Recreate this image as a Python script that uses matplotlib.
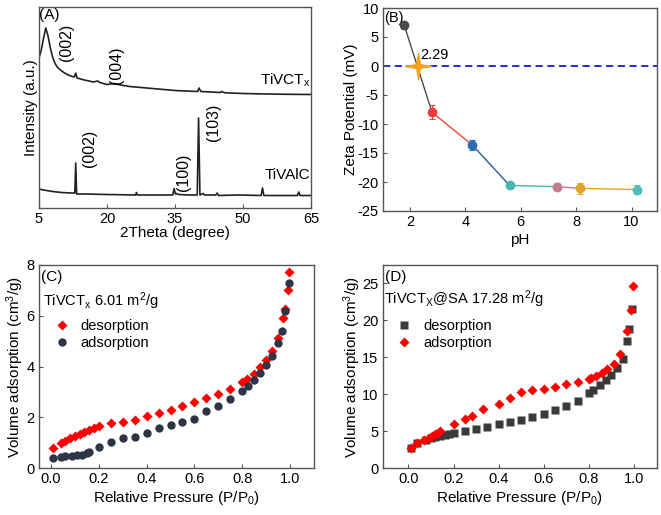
import matplotlib
matplotlib.use("Agg")
import matplotlib.pyplot as plt
from matplotlib.path import Path
import numpy as np

plt.rcParams['font.family'] = ['Liberation Sans', 'DejaVu Sans']
plt.rcParams['font.size'] = 10
plt.rcParams['axes.unicode_minus'] = False
plt.rcParams['mathtext.default'] = 'regular'

# ---------------- Panel A: XRD ----------------
tivctx_2theta = [5.0, 5.5, 6.0, 6.5, 7.0, 7.5, 8.0, 8.5, 9.0, 10.0, 11.0, 12.0, 12.8, 13.1, 13.4,
                 15.0, 17.0, 17.9, 18.4, 20.0, 21.5, 23.0, 25.0, 30.0, 35.0, 40.0, 40.3, 40.7,
                 45.0, 45.3, 46.0, 50.0, 55.0, 60.0, 65.0]
tivctx_int = [150, 158, 170, 180, 172, 160, 151, 145, 141, 137, 134, 132, 131, 135, 130,
              128, 126, 127, 125.5, 123.5, 124.5, 123, 121.5, 119.5, 117.5, 116.5, 120, 116.5,
              115.5, 116.5, 115.2, 114.5, 114, 113.7, 113.5]

tivalc_2theta = [5.0, 6.0, 8.0, 10.0, 12.0, 12.9, 13.1, 13.3, 15.0, 20.0, 26.3, 26.5, 26.7, 30.0,
                 34.5, 34.8, 35.1, 35.5, 35.8, 38.0, 39.9, 40.2, 40.5, 41.2, 41.5, 44.0, 44.3, 44.6,
                 49.0, 54.0, 54.3, 54.6, 60.0, 62.0, 62.3, 62.6, 65.0]
tivalc_int = [19, 18, 16.5, 15.5, 15, 15, 45, 14, 14, 13.5, 13, 15.5, 13, 13,
              13, 19.5, 14, 14.5, 13.5, 13, 13, 90, 13, 14.5, 13, 13, 15, 12.5,
              13, 12.5, 20, 12.5, 12.5, 12.5, 16, 12.5, 12.5]

# ---------------- Panel B: Zeta potential ----------------
ph = [1.8, 2.8, 4.25, 5.6, 7.3, 8.15, 10.2]
zeta = [7.0, -8.0, -13.6, -20.6, -20.8, -21.1, -21.3]
zeta_err = [0.6, 1.2, 0.8, 0.5, 0.6, 0.9, 0.7]
pzc_ph = 2.29
point_colors = ['#4a4a4a', '#f23c3c', '#2b6cb4', '#45b7b2', '#c47a8c', '#e3a22e', '#4fbfbd']
segment_colors = ['#4a4a4a', '#f04a3a', '#1f5c98', '#42b8b4', '#c47a8c', '#f0a020']

# ---------------- Panel C: TiVCTx BET ----------------
c_des_p = [0.01, 0.04, 0.06, 0.08, 0.10, 0.12, 0.14, 0.16, 0.18, 0.20, 0.25, 0.30, 0.35, 0.40,
           0.45, 0.50, 0.55, 0.60, 0.65, 0.70, 0.75, 0.80, 0.82, 0.85, 0.875, 0.90, 0.925,
           0.95, 0.97, 0.98, 0.99, 0.995]
c_des_v = [0.78, 0.98, 1.07, 1.20, 1.27, 1.35, 1.43, 1.50, 1.58, 1.66, 1.78, 1.80, 1.90, 2.05,
           2.18, 2.28, 2.45, 2.62, 2.76, 2.92, 3.13, 3.37, 3.50, 3.72, 3.98, 4.27, 4.63,
           5.13, 5.93, 6.27, 7.00, 7.72]
c_ads_p = [0.01, 0.04, 0.06, 0.09, 0.11, 0.13, 0.15, 0.16, 0.20, 0.25, 0.30, 0.35, 0.40, 0.45,
           0.50, 0.55, 0.60, 0.65, 0.70, 0.75, 0.80, 0.825, 0.85, 0.875, 0.90, 0.925, 0.95,
           0.965, 0.98, 0.995]
c_ads_v = [0.40, 0.45, 0.47, 0.48, 0.50, 0.53, 0.58, 0.65, 0.84, 1.03, 1.20, 1.24, 1.38, 1.56,
           1.70, 1.82, 1.94, 2.24, 2.43, 2.72, 3.02, 3.23, 3.48, 3.73, 4.05, 4.42, 4.93,
           5.38, 6.17, 7.31]

# ---------------- Panel D: TiVCTx@SA BET ----------------
d_des_p = [0.01, 0.04, 0.08, 0.10, 0.12, 0.14, 0.16, 0.18, 0.20, 0.25, 0.30, 0.35, 0.40, 0.45,
           0.50, 0.55, 0.60, 0.65, 0.70, 0.75, 0.80, 0.82, 0.85, 0.875, 0.90, 0.925, 0.95,
           0.97, 0.98, 0.99]
d_des_v = [2.7, 3.4, 3.85, 4.0, 4.2, 4.4, 4.5, 4.65, 4.75, 5.05, 5.3, 5.6, 5.9, 6.2,
           6.5, 6.9, 7.3, 7.8, 8.4, 9.1, 10.1, 10.6, 11.3, 11.9, 12.6, 13.5, 14.8,
           17.2, 18.8, 21.5]
d_ads_p = [0.01, 0.04, 0.07, 0.09, 0.105, 0.12, 0.13, 0.14, 0.20, 0.25, 0.28, 0.33, 0.40, 0.45,
           0.50, 0.55, 0.60, 0.65, 0.70, 0.75, 0.80, 0.81, 0.83, 0.86, 0.88, 0.91, 0.94,
           0.97, 0.985, 0.995]
d_ads_v = [2.7, 3.35, 3.8, 4.05, 4.3, 4.6, 4.8, 5.05, 5.95, 6.6, 7.1, 8.0, 8.7, 9.5,
           10.3, 10.55, 10.75, 11.0, 11.35, 11.7, 12.1, 12.25, 12.5, 12.9, 13.4, 14.1, 15.5,
           18.6, 21.4, 24.6]

W, H = 661, 515
fig = plt.figure(figsize=(W / 100, H / 100), dpi=100)

LABEL_FS = 11
TICK_FS = 10.5
TEXT_FS = 10.5


def add_ax(l, r, t, b):
    return fig.add_axes([l / W, 1 - b / H, (r - l) / W, (b - t) / H])


spine_col = '#555555'


def style(ax):
    for s in ax.spines.values():
        s.set_color(spine_col)
        s.set_linewidth(1.0)
    ax.tick_params(direction='in', length=3, color=spine_col, labelsize=TICK_FS, pad=3)


# Panel A
axA = add_ax(39, 311, 7, 208)
style(axA)
axA.plot(tivctx_2theta, tivctx_int, color='#222222', lw=1.2)
axA.plot(tivalc_2theta, tivalc_int, color='#222222', lw=1.2)
axA.set_xlim(5, 65)
axA.set_ylim(0, 201)
axA.set_xticks([5, 20, 35, 50, 65])
axA.set_yticks([])
axA.set_xlabel('2Theta (degree)', labelpad=0, fontsize=LABEL_FS)
axA.set_ylabel('Intensity (a.u.)', labelpad=1, fontsize=LABEL_FS)
axA.text(0.0, 0.995, '(A)', transform=axA.transAxes, ha='left', va='top', fontsize=11)
pk_fs = 11.5
axA.text(11.0, 166, '(002)', rotation=90, ha='center', va='center', fontsize=pk_fs)
axA.text(22.0, 143, '(004)', rotation=90, ha='center', va='center', fontsize=pk_fs)
axA.text(16.1, 60, '(002)', rotation=90, ha='center', va='center', fontsize=pk_fs)
axA.text(36.8, 36, '(100)', rotation=90, ha='center', va='center', fontsize=pk_fs)
axA.text(43.5, 86, '(103)', rotation=90, ha='center', va='center', fontsize=pk_fs)
axA.text(64.8, 128, 'TiVCT$_x$', ha='right', va='center', fontsize=11)
axA.text(64.8, 33, 'TiVAlC', ha='right', va='center', fontsize=11)

# Panel B
axB = add_ax(383, 656.5, 8, 211)
style(axB)
axB.axhline(0, color='#1a1acc', lw=1.3, ls=(0, (4, 2.5)), zorder=1)
for i in range(len(ph) - 1):
    axB.plot(ph[i:i + 2], zeta[i:i + 2], color=segment_colors[i], lw=1.0, zorder=2)
for i in range(len(ph)):
    axB.errorbar(ph[i], zeta[i], yerr=zeta_err[i], fmt='o', ms=6, color=point_colors[i],
                 ecolor=point_colors[i], elinewidth=0.8, capsize=2, capthick=0.8, zorder=3)
star = Path([(0, 1), (0.14, 0.14), (1, 0), (0.14, -0.14), (0, -1), (-0.14, -0.14), (-1, 0),
             (-0.14, 0.14), (0, 1)], closed=True)
axB.plot([pzc_ph], [0], marker=star, ms=19, color='#f5a21e', mec='#f5a21e', zorder=4, ls='none')
axB.text(pzc_ph + 0.1, 1.9, '%.2f' % pzc_ph, ha='left', va='center', fontsize=10.5)
axB.set_xlim(1.03, 10.9)
axB.set_ylim(-25, 10)
axB.set_xticks([2, 4, 6, 8, 10])
axB.set_yticks([10, 5, 0, -5, -10, -15, -20, -25])
axB.set_xlabel('pH', labelpad=3, fontsize=LABEL_FS)
axB.set_ylabel('Zeta Potential (mV)', labelpad=0, fontsize=LABEL_FS)
axB.text(0.005, 0.985, '(B)', transform=axB.transAxes, ha='left', va='top', fontsize=10.5)

# Panel C
axC = add_ax(38.5, 314, 265, 468)
style(axC)
axC.plot(c_des_p, c_des_v, 'D', color='#ff0000', ms=5.5, mec='none', label='desorption')
axC.plot(c_ads_p, c_ads_v, 'o', color='#2e3547', ms=6, mec='none', label='adsorption')
axC.set_xlim(-0.052, 1.1)
axC.set_ylim(0, 8)
axC.set_xticks([0.0, 0.2, 0.4, 0.6, 0.8, 1.0])
axC.set_xticklabels(['0.0', '0.2', '0.4', '0.6', '0.8', '1.0'])
axC.set_yticks([0, 2, 4, 6, 8])
axC.set_xlabel('Relative Pressure (P/P$_0$)', labelpad=2, fontsize=LABEL_FS)
axC.set_ylabel('Volume adsorption (cm$^3$/g)', labelpad=0, fontsize=LABEL_FS)
axC.text(0.01, 0.975, '(C)', transform=axC.transAxes, ha='left', va='top', fontsize=11)
axC.text(0.017, 0.82, 'TiVCT$_x$ 6.01 m$^2$/g', transform=axC.transAxes, ha='left', va='center',
         fontsize=TEXT_FS)
axC.legend(loc='upper left', bbox_to_anchor=(0.02, 0.785), frameon=False, handlelength=1.0,
           handletextpad=0.8, labelspacing=0.2, fontsize=TEXT_FS, borderpad=0.2)

# Panel D
axD = add_ax(382.5, 656.5, 265, 468)
style(axD)
axD.plot(d_des_p, d_des_v, 's', color='#3a3a3a', ms=5.5, mec='none', label='desorption')
axD.plot(d_ads_p, d_ads_v, 'D', color='#ff0000', ms=5.5, mec='none', label='adsorption')
axD.set_xlim(-0.115, 1.1)
axD.set_ylim(0, 27.5)
axD.set_xticks([0.0, 0.2, 0.4, 0.6, 0.8, 1.0])
axD.set_xticklabels(['0.0', '0.2', '0.4', '0.6', '0.8', '1.0'])
axD.set_yticks([0, 5, 10, 15, 20, 25])
axD.set_xlabel('Relative Pressure (P/P$_0$)', labelpad=2, fontsize=LABEL_FS)
axD.set_ylabel('Volume adsorption (cm$^3$/g)', labelpad=-1, fontsize=LABEL_FS)
axD.text(0.01, 0.975, '(D)', transform=axD.transAxes, ha='left', va='top', fontsize=11)
axD.text(0.006, 0.83, 'TiVCT$_X$@SA 17.28 m$^2$/g', transform=axD.transAxes, ha='left',
         va='center', fontsize=TEXT_FS)
axD.legend(loc='upper left', bbox_to_anchor=(0.015, 0.785), frameon=False, handlelength=1.0,
           handletextpad=0.8, labelspacing=0.2, fontsize=TEXT_FS, borderpad=0.2)

fig.savefig('out.png', dpi=100)
